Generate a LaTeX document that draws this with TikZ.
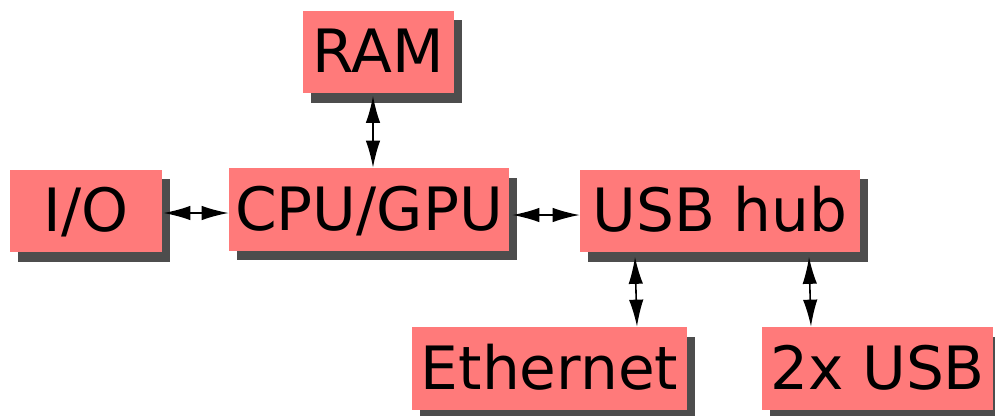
\documentclass[tikz,border=0pt]{standalone}
\usepackage{fontspec}
\setmainfont{DejaVu Sans}
\usetikzlibrary{shadows,arrows.meta,calc}
\definecolor{boxred}{RGB}{255,122,122}
\definecolor{shadowgrey}{RGB}{77,77,77}
\begin{document}
\begin{tikzpicture}[x=0.02cm,y=-0.02cm,
        box/.style={fill=boxred, inner sep=0pt, minimum height=1.66cm,
          text height=0.9cm, text depth=0.06cm, font=\fontsize{34}{40}\selectfont,
          drop shadow={shadow xshift=0.16cm, shadow yshift=-0.19cm, fill=shadowgrey, opacity=1}},
        link/.style={black, line width=0.032cm,
          {Latex[length=0.54cm,width=0.29cm]}-{Latex[length=0.54cm,width=0.29cm]}}]
        \useasboundingbox (0,0) rectangle (995,416);
        \node [box, minimum width=3.02cm] (ram) at (378.5,52) {RAM};
        \node [box, minimum width=3.04cm] (io) at (86,211) {I/O};
        \node [box, minimum width=5.6cm] (cpu) at (369,209.5) {CPU/GPU};
        \node [box, minimum width=5.6cm] (hub) at (720,211) {USB hub};
        \node [box, minimum width=5.5cm] (eth) at (549.5,368.5) {Ethernet};
        \node [box, minimum width=4.62cm] (usb) at (877.5,368.5) {2x USB};
        \draw [link] ($(ram.south)+(-5.5,2)$) -- ($(cpu.north)+(4,0)$);
        \draw [link] ($(io.east)+(1,2)$) -- ($(cpu.west)+(0,3.5)$);
        \draw [link] ($(cpu.east)+(3,5.5)$) -- ($(hub.west)+(0,4)$);
        \draw [link] ($(hub.south)+(-85,4)$) -- ($(eth.north)+(87.5,0)$);
        \draw [link] ($(hub.south)+(89,4)$) -- ($(usb.north)+(-66.5,0)$);
\end{tikzpicture}
\end{document}
